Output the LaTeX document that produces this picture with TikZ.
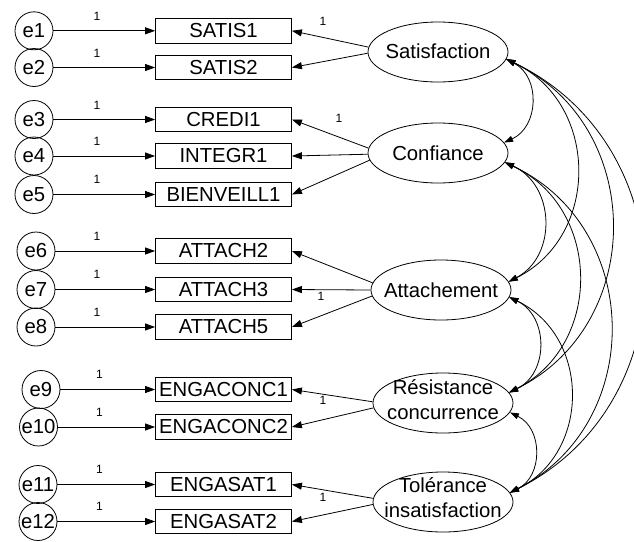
\documentclass[tikz,border=0pt]{standalone}
\usepackage{fontspec}
\setmainfont{Liberation Sans}
\usetikzlibrary{arrows.meta,shapes.geometric}
\begin{document}
\begin{tikzpicture}[x=1pt,y=1pt,
  every node/.style={font=\fontsize{20.3}{25}\selectfont},
  err/.style={circle,draw,minimum size=38pt,inner sep=0pt,line width=0.8pt},
  obs/.style={rectangle,draw,minimum width=136pt,minimum height=24.5pt,inner sep=0pt,line width=0.8pt},
  lat/.style={ellipse,draw,minimum width=140pt,minimum height=60pt,inner sep=0pt,line width=0.8pt},
  lattext/.style={align=center,inner sep=0pt},
  one/.style={font=\fontsize{12}{14}\selectfont,inner sep=0pt},
  link/.style={line width=0.8pt,-{Triangle[length=10pt,width=7pt]}},
  cov/.style={line width=0.8pt,{Triangle[length=9pt,width=6pt]}-{Triangle[length=9pt,width=6pt]},bend left=64,looseness=1.18},
]
\useasboundingbox (0,0) rectangle (634,-541);

% observed variables
\node[obs] (b1)  at (223.5,-30.8)  {SATIS1};
\node[obs] (b2)  at (223.5,-67.5)  {SATIS2};
\node[obs] (b3)  at (223.5,-119.5) {CREDI1};
\node[obs] (b4)  at (223.5,-156)   {INTEGR1};
\node[obs] (b5)  at (223.5,-194.5) {BIENVEILL1};
\node[obs] (b6)  at (223.5,-251)   {ATTACH2};
\node[obs] (b7)  at (223.5,-289.5) {ATTACH3};
\node[obs] (b8)  at (223.5,-327)   {ATTACH5};
\node[obs] (b9)  at (223.5,-389.5) {ENGACONC1};
\node[obs] (b10) at (223.5,-427)   {ENGACONC2};
\node[obs] (b11) at (223.5,-484.5) {ENGASAT1};
\node[obs] (b12) at (223.5,-521.5) {ENGASAT2};

% error terms
\node[err] (e1)  at (34,-30.8)  {e1};
\node[err] (e2)  at (34,-67.5)  {e2};
\node[err] (e3)  at (34,-119.5) {e3};
\node[err] (e4)  at (34,-156)   {e4};
\node[err] (e5)  at (34,-194.5) {e5};
\node[err] (e6)  at (36,-251)   {e6};
\node[err] (e7)  at (36,-289.5) {e7};
\node[err] (e8)  at (36,-327)   {e8};
\node[err] (e9)  at (41,-389.5) {e9};
\node[err] (e10) at (38.5,-427) {e10};
\node[err] (e11) at (38,-484.5) {e11};
\node[err] (e12) at (38,-521.5) {e12};

% latent variables
\node[lat] (sat)  at (438,-52)  {};
\node[lat] (conf) at (438,-153) {};
\node[lat] (att)  at (441,-290) {};
\node[lat] (res)  at (443,-403) {};
\node[lat] (tol)  at (443,-502) {};
\node[lattext] (satT)  at (438,-51.5)  {Satisfaction};
\node[lattext] (confT) at (438,-153)   {Confiance};
\node[lattext] (attT)  at (441,-290)   {Attachement};
\node[lattext] (resT)  at (443,-399.9) {Résistance\\concurrence};
\node[lattext] (tolT)  at (443,-497.9) {Tolérance\\insatisfaction};

% error -> observed
\foreach \i in {1,...,12} { \draw[link] (e\i) -- (b\i); }

% weight labels on error paths
\node[one] (w1)  at (97,-16)   {1};
\node[one] (w2)  at (97,-53)   {1};
\node[one] (w3)  at (97,-105)  {1};
\node[one] (w4)  at (97,-141)  {1};
\node[one] (w5)  at (97,-179)  {1};
\node[one] (w6)  at (97,-236)  {1};
\node[one] (w7)  at (97,-274)  {1};
\node[one] (w8)  at (97,-312)  {1};
\node[one] (w9)  at (99.5,-374) {1};
\node[one] (w10) at (99.5,-412) {1};
\node[one] (w11) at (99.5,-469) {1};
\node[one] (w12) at (99.5,-506) {1};

% loadings
\draw[link] (sat.176.7) -- (b1.east);
\draw[link] (sat.181)   -- (b2.east);
\draw[link] (conf.176)  -- (b3.east);
\draw[link] (conf.181)  -- (b4.east);
\draw[link] (conf.186)  -- (b5.east);
\draw[link] (att.174)   -- (b6.east);
\draw[link] (att.180)   -- (b7.east);
\draw[link] (att.185)   -- (b8.east);
\draw[link] (res.179)   -- (b9.east);
\draw[link] (res.184)   -- (b10.east);
\draw[link] (tol.177)   -- (b11.east);
\draw[link] (tol.182)   -- (b12.east);

% loading labels
\node[one] (ls) at (323,-21)  {1};
\node[one] (lc) at (339,-118) {1};
\node[one] (la) at (321,-296) {1};
\node[one] (lr) at (323,-400) {1};
\node[one] (lt) at (323,-497) {1};

% covariances
\draw[cov] (sat.-6)  to (conf.9);
\draw[cov] (sat.-6)  to (att.7);
\draw[cov] (sat.-6)  to (res.9);
\draw[cov] (sat.-6)  to (tol.8);
\draw[cov] (conf.-8) to (att.7);
\draw[cov] (conf.-8) to (res.9);
\draw[cov] (conf.-8) to (tol.8);
\draw[cov] (att.-6)  to (res.9);
\draw[cov] (att.-6)  to (tol.8);
\draw[cov] (res.-8)  to (tol.8);
\end{tikzpicture}
\end{document}
